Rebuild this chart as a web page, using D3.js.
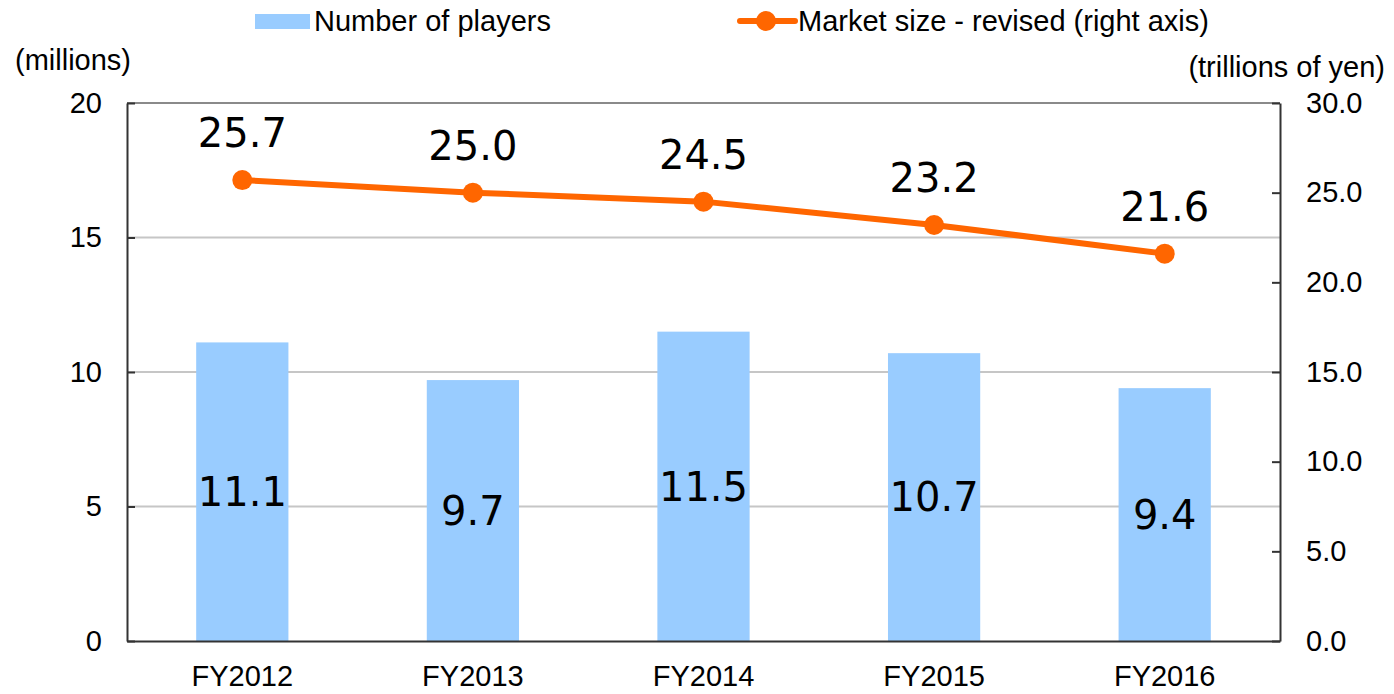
<!DOCTYPE html>
<html>
<head>
<meta charset="utf-8">
<script src="https://cdn.jsdelivr.net/npm/d3@7"></script>
<style>
  body { margin: 0; background: #fff; }
  svg text { font-family: "Liberation Sans", Arial, sans-serif; }
</style>
</head>
<body>
<svg id="chart" width="1394" height="694"></svg>
<script>
// ---- Data ----
const categories = ["FY2012", "FY2013", "FY2014", "FY2015", "FY2016"];
const players = [11.1, 9.7, 11.5, 10.7, 9.4];
const marketSize = [25.7, 25.0, 24.5, 23.2, 21.6];
const leftTicks = [0, 5, 10, 15, 20];
const rightTicks = [0, 5, 10, 15, 20, 25, 30];

const margin = { top: 103, right: 114, bottom: 53, left: 127 };
const width = 1394, height = 694;
const innerWidth = width - margin.left - margin.right;
const innerHeight = height - margin.top - margin.bottom;
const axisFont = "29px";
const labelFont = "40px";

const svg = d3.select("#chart");
const g = svg.append("g").attr("transform", `translate(${margin.left},${margin.top})`);

// ---- Scales ----
const xScale = d3.scaleBand().domain(categories).range([0, innerWidth]).paddingInner(0.6).paddingOuter(0.3);
const yLeft = d3.scaleLinear().domain([0, 20]).range([innerHeight, 0]);
const yRight = d3.scaleLinear().domain([0, 30]).range([innerHeight, 0]);
const cx = i => xScale(categories[i]) + xScale.bandwidth() / 2;

// ---- Gridlines ----
g.selectAll(".grid")
    .data(leftTicks.filter(d => d > 0 && d < 20))
    .join("line")
    .attr("class", "grid")
    .attr("x1", 0).attr("x2", innerWidth)
    .attr("y1", d => yLeft(d)).attr("y2", d => yLeft(d))
    .attr("stroke", "#c6c6c6").attr("stroke-width", 2);

g.append("line")
    .attr("x1", 0).attr("x2", innerWidth)
    .attr("y1", yLeft(20)).attr("y2", yLeft(20))
    .attr("stroke", "#8a8a8a").attr("stroke-width", 2);

// ---- Bars ----
g.selectAll(".bar")
    .data(players)
    .join("rect")
    .attr("class", "bar")
    .attr("x", (d, i) => xScale(categories[i]))
    .attr("y", d => yLeft(d))
    .attr("width", xScale.bandwidth())
    .attr("height", d => innerHeight - yLeft(d))
    .attr("fill", "#99ccff");

g.selectAll(".bar-label")
    .data(players)
    .join("text")
    .attr("class", "bar-label")
    .attr("x", (d, i) => cx(i))
    .attr("y", d => yLeft(d / 2))
    .attr("dy", "0.36em")
    .attr("text-anchor", "middle")
    .style("font-family", "'DejaVu Sans', Verdana, sans-serif")
    .style("font-size", labelFont)
    .attr("fill", "#000")
    .text(d => d.toFixed(1));

// ---- Axes ----
function styleAxis(sel) {
    sel.attr("font-size", null).attr("font-family", null)
        .style("font-size", axisFont);
    sel.select(".domain").attr("stroke", "#333").attr("stroke-width", 2);
    sel.selectAll(".tick line").attr("stroke", "#333").attr("stroke-width", 2);
    sel.selectAll("text").style("font-size", axisFont).attr("fill", "#000")
        .style("font-family", "'Liberation Sans', Arial, sans-serif");
}

const axisLeft = g.append("g")
    .call(d3.axisLeft(yLeft).tickValues(leftTicks).tickSizeInner(-8).tickSizeOuter(0).tickPadding(25));
styleAxis(axisLeft);

const axisRight = g.append("g")
    .attr("transform", `translate(${innerWidth},0)`)
    .call(d3.axisRight(yRight).tickValues(rightTicks).tickFormat(d3.format(".1f")).tickSizeInner(-8).tickSizeOuter(0).tickPadding(26));
styleAxis(axisRight);

const axisBottom = g.append("g")
    .attr("transform", `translate(0,${innerHeight})`)
    .call(d3.axisBottom(xScale).tickSize(0).tickPadding(24));
styleAxis(axisBottom);

// ---- Line ----
const lineGen = d3.line()
    .x((d, i) => cx(i))
    .y(d => yRight(d));

g.append("path")
    .datum(marketSize)
    .attr("d", lineGen)
    .attr("fill", "none")
    .attr("stroke", "#ff6600")
    .attr("stroke-width", 6);

g.selectAll(".dot")
    .data(marketSize)
    .join("circle")
    .attr("class", "dot")
    .attr("cx", (d, i) => cx(i))
    .attr("cy", d => yRight(d))
    .attr("r", 10)
    .attr("fill", "#ff6600");

g.selectAll(".line-label")
    .data(marketSize)
    .join("text")
    .attr("class", "line-label")
    .attr("x", (d, i) => cx(i))
    .attr("y", d => yRight(d) - 33)
    .attr("text-anchor", "middle")
    .style("font-family", "'DejaVu Sans', Verdana, sans-serif")
    .style("font-size", labelFont)
    .attr("fill", "#000")
    .text(d => d.toFixed(1));

// ---- Axis titles ----
svg.append("text")
    .attr("x", 15).attr("y", 70)
    .style("font-size", axisFont)
    .text("(millions)");

svg.append("text")
    .attr("x", 1385).attr("y", 77)
    .attr("text-anchor", "end")
    .style("font-size", axisFont)
    .text("(trillions of yen)");

// ---- Legend ----
const legend = svg.append("g");
legend.append("rect")
    .attr("x", 255).attr("y", 14).attr("width", 55).attr("height", 15)
    .attr("fill", "#99ccff");
legend.append("text")
    .attr("x", 314).attr("y", 31)
    .style("font-size", axisFont)
    .text("Number of players");

legend.append("line")
    .attr("x1", 740).attr("x2", 795).attr("y1", 21).attr("y2", 21)
    .attr("stroke", "#ff6600").attr("stroke-width", 6).attr("stroke-linecap", "round");
legend.append("circle")
    .attr("cx", 766).attr("cy", 21).attr("r", 10)
    .attr("fill", "#ff6600");
legend.append("text")
    .attr("x", 798).attr("y", 31)
    .style("font-size", axisFont)
    .text("Market size - revised (right axis)");
</script>
</body>
</html>
